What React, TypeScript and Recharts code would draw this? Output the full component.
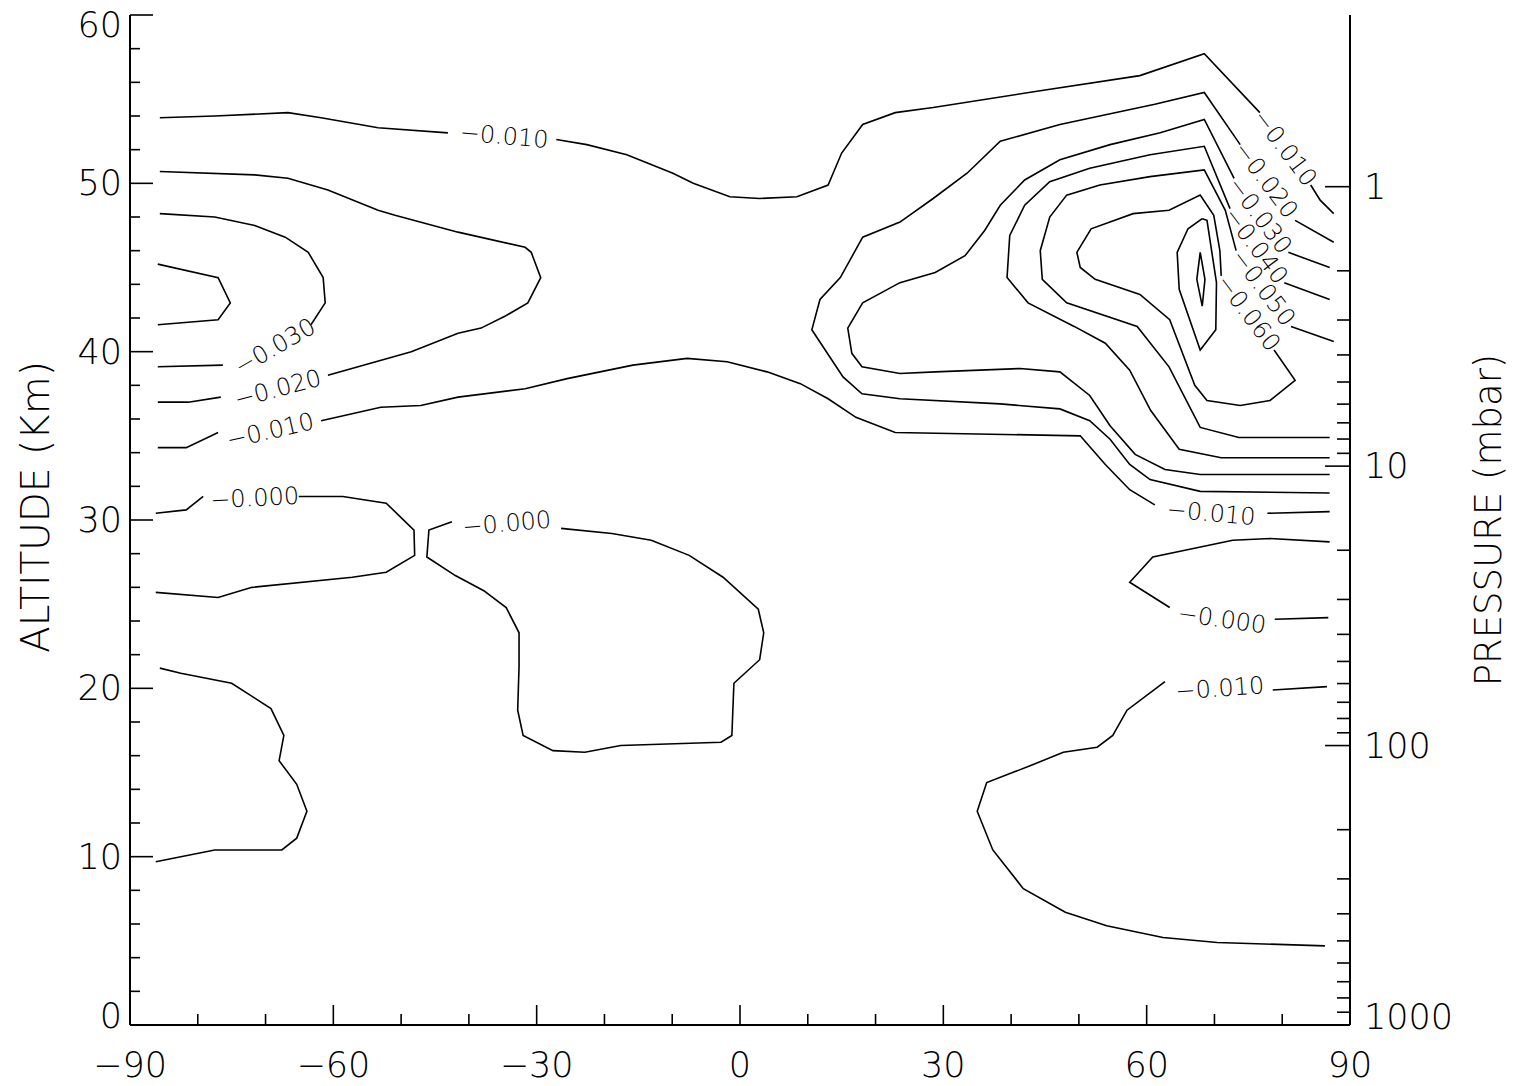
import React from 'react';
import { ComposedChart, Line, XAxis, YAxis, Scatter } from 'recharts';

// ---------- axis tick values ----------
const xTicks = [-90, -80, -70, -60, -50, -40, -30, -20, -10, 0, 10, 20, 30, 40, 50, 60, 70, 80, 90];
const altTicks = [0, 2, 4, 6, 8, 10, 12, 14, 16, 18, 20, 22, 24, 26, 28, 30, 32, 34, 36, 38, 40, 42, 44, 46, 48, 50, 52, 54, 56, 58, 60];
const pTicks = [1, 2, 3, 4, 5, 6, 7, 8, 9, 10, 20, 30, 40, 50, 60, 70, 80, 90, 100, 200, 300, 400, 500, 600, 700, 800, 900, 1000];
const pMajor = [1, 10, 100, 1000];
const P_TOP = 0.243; // pressure (mbar) at 60 km

// ---------- contour lines [latitude, altitude km] ----------
const neg010TopWest = [[-85.6, 53.9], [-77.5, 54.0], [-66.7, 54.2], [-61.8, 53.9], [-53.4, 53.3], [-43.1, 53.0]];
const neg010TopMid = [[-27.1, 52.6], [-22.6, 52.3], [-16.7, 51.7], [-9.9, 50.6], [-6.9, 50.0], [-1.5, 49.2], [2.9, 49.1], [8.4, 49.2], [13.0, 49.9], [15.0, 51.8], [18.1, 53.5], [22.9, 54.2], [28.5, 54.5], [44.3, 55.5], [59.0, 56.4], [68.5, 57.7], [76.7, 54.2]];
const neg010TopEast = [[84.2, 49.9], [85.6, 49.0], [87.6, 48.2]];

const neg020WestA = [[-85.6, 50.7], [-71.6, 50.5], [-66.7, 50.3], [-60.8, 49.6], [-53.4, 48.4], [-50.9, 48.1], [-41.6, 47.1], [-31.7, 46.2], [-30.8, 45.9], [-29.4, 44.4], [-31.3, 42.9], [-34.7, 42.1], [-38.2, 41.4], [-41.6, 41.1], [-48.5, 40.0], [-60.8, 38.6]];
const neg020WestB = [[-76.6, 37.3], [-81.4, 37.0], [-85.9, 37.0]];

const neg030WestA = [[-85.6, 48.2], [-77.5, 48.0], [-71.6, 47.5], [-67.1, 46.8], [-63.7, 45.9], [-61.5, 44.4], [-61.2, 42.9], [-63.3, 41.6]];
const neg030WestB = [[-76.3, 39.2], [-85.9, 39.1]];

const neg040West = [[-85.9, 45.2], [-77.0, 44.4], [-75.2, 42.9], [-77.0, 41.9], [-85.9, 41.6]];

const neg010LowWest = [[-85.9, 34.3], [-81.7, 34.3], [-77.0, 35.2]];
const neg010LowMid = [[-61.8, 35.9], [-53.0, 36.7], [-47.1, 36.8], [-41.6, 37.3], [-31.7, 37.8], [-25.5, 38.4], [-15.8, 39.2], [-7.8, 39.6], [-1.9, 39.4], [4.0, 38.8], [8.9, 38.1], [13.0, 37.2], [17.1, 36.1], [22.9, 35.2], [50.2, 35.0], [53.9, 33.3], [57.5, 31.8], [61.2, 30.9]];
const neg010LowEast = [[77.8, 30.4], [87.0, 30.5]];

const zeroWestA = [[-86.2, 30.4], [-81.7, 30.6], [-79.2, 31.4]];
const zeroWestB = [[-65.1, 31.4], [-58.6, 31.4], [-52.2, 31.0], [-48.1, 29.4], [-48.0, 27.9], [-52.2, 26.9], [-57.2, 26.6], [-72.0, 26.0], [-77.0, 25.4], [-86.2, 25.7]];

const zeroMid = [[-26.4, 29.5], [-18.9, 29.2], [-13.1, 28.8], [-7.5, 27.9], [-2.5, 26.6], [2.7, 24.7], [3.5, 23.3], [2.9, 21.7], [-0.9, 20.3], [-1.2, 17.2], [-2.8, 16.8], [-17.6, 16.6], [-22.9, 16.2], [-27.6, 16.3], [-32.0, 17.2], [-32.8, 18.7], [-32.6, 21.3], [-32.6, 23.3], [-34.5, 24.8], [-37.8, 25.8], [-42.0, 26.7], [-46.2, 27.8], [-45.9, 29.4], [-42.5, 29.9]];

const zeroSouthWest = [[-85.6, 21.2], [-82.5, 20.9], [-75.0, 20.3], [-69.2, 18.8], [-67.3, 17.2], [-68.0, 15.7], [-65.4, 14.3], [-63.9, 12.7], [-65.4, 11.1], [-67.6, 10.4], [-77.5, 10.4], [-86.2, 9.7]];

const zeroEastA = [[87.0, 28.7], [78.2, 28.9], [72.7, 28.8], [60.9, 27.8], [57.5, 26.3], [63.4, 24.8]];
const zeroEastB = [[78.9, 24.1], [86.8, 24.2]];

const neg010SouthEastA = [[86.6, 20.1], [78.6, 19.9]];
const neg010SouthEastB = [[62.7, 20.4], [57.1, 18.7], [55.0, 17.2], [52.7, 16.5], [47.7, 16.2], [42.8, 15.4], [36.4, 14.4], [35.0, 12.7], [37.3, 10.4], [41.8, 8.1], [48.0, 6.7], [54.1, 5.9], [62.4, 5.2], [70.4, 4.9], [86.3, 4.7]];

const neg020EastA = [[87.6, 46.5], [81.9, 47.8]];
const neg020EastB = [[73.8, 52.3], [68.5, 55.4], [61.2, 54.7], [47.2, 53.5], [38.4, 52.5], [33.5, 50.6], [28.5, 49.1], [23.6, 47.7], [18.1, 46.8], [14.8, 44.4], [11.8, 43.1], [10.6, 41.3], [15.2, 38.5], [18.0, 37.5], [23.6, 37.2], [38.4, 36.9], [47.2, 36.6], [51.6, 35.9], [54.6, 34.8], [57.5, 33.3], [60.5, 32.4], [67.9, 31.7], [87.0, 31.6]];

const neg030EastA = [[87.0, 45.0], [80.9, 45.9]];
const neg030EastB = [[72.9, 50.3], [68.5, 53.8], [62.0, 53.0], [54.6, 52.3], [47.2, 51.4], [42.0, 50.2], [38.4, 48.7], [36.1, 47.2], [33.2, 45.7], [28.8, 44.7], [23.6, 44.1], [18.1, 42.9], [15.9, 41.4], [16.5, 39.9], [18.0, 39.1], [23.6, 38.7], [28.8, 38.8], [41.3, 39.0], [47.2, 38.8], [51.6, 37.4], [54.6, 35.6], [58.3, 33.9], [62.7, 33.0], [67.9, 32.7], [87.0, 32.7]];

const neg040EastA = [[87.0, 43.1], [80.3, 44.1]];
const neg040EastB = [[72.3, 48.5], [68.5, 52.2], [60.5, 51.7], [51.6, 50.9], [45.7, 50.1], [42.0, 48.7], [39.8, 46.9], [39.4, 44.4], [42.5, 42.9], [49.3, 41.5], [53.9, 40.5], [57.5, 38.9], [60.6, 36.5], [64.8, 34.2], [71.0, 33.7], [87.0, 33.7]];

const neg050EastA = [[87.6, 40.6], [81.3, 41.5]];
const neg050EastB = [[73.2, 46.0], [71.6, 48.4], [68.5, 50.8], [60.5, 50.4], [53.1, 49.9], [48.2, 49.3], [45.7, 48.0], [44.3, 46.0], [44.6, 44.3], [48.2, 42.9], [58.6, 41.5], [63.3, 39.1], [67.9, 35.5], [73.6, 34.9], [87.0, 34.9]];

const neg060East = [[78.8, 40.1], [81.9, 38.3], [78.2, 37.1], [73.8, 36.8], [68.9, 37.1], [67.1, 38.0], [63.4, 41.9], [59.0, 43.4], [52.4, 44.3], [50.2, 45.0], [49.7, 45.9], [51.8, 47.3], [58.0, 48.2], [63.3, 48.4], [67.9, 49.3], [69.9, 48.1], [70.8, 46.0], [71.0, 44.5]];

const neg070East = [[68.2, 47.9], [66.1, 47.3], [64.5, 45.9], [64.8, 43.7], [67.9, 40.1], [70.2, 41.3], [70.3, 44.1], [68.9, 47.8], [68.2, 47.9]];
const neg080East = [[67.9, 45.9], [67.4, 44.3], [68.2, 42.7], [68.6, 44.3], [67.9, 45.9]];

const contourSegments = [
  neg010TopWest, neg010TopMid, neg010TopEast,
  neg020WestA, neg020WestB, neg030WestA, neg030WestB, neg040West,
  neg010LowWest, neg010LowMid, neg010LowEast,
  zeroWestA, zeroWestB, zeroMid, zeroSouthWest, zeroEastA, zeroEastB,
  neg010SouthEastA, neg010SouthEastB,
  neg020EastA, neg020EastB, neg030EastA, neg030EastB, neg040EastA, neg040EastB,
  neg050EastA, neg050EastB, neg060East, neg070East, neg080East,
];

// ---------- contour labels ----------
const labelText = ['−0.010', '−0.030', '−0.020', '−0.010', '−0.000', '−0.000', '−0.000', '−0.010', '−0.010', '−0.010', '−0.020', '−0.030', '−0.040', '−0.050', '−0.060'];
const labelLat = [-34.8, -68.6, -68.2, -69.3, -71.6, -34.4, 71.1, 70.8, 69.5, 80.4, 77.6, 76.7, 76.1, 77.2, 75.0];
const labelAlt = [52.8, 40.3, 37.8, 35.3, 31.3, 29.8, 24.1, 20.0, 30.4, 52.1, 50.2, 48.1, 46.3, 43.8, 42.3];
const labelAngle = [5, -30, -15, -13, -3, -5, 8, -4, 5, 53, 53, 53, 53, 53, 53];

const toPts = (a: number[][]) => a.map(([lat, alt]) => ({ lat, alt }));
const labelRows = labelText.map((t, i) => ({ lat: labelLat[i], alt: labelAlt[i], text: t, angle: labelAngle[i] }));

const FONT = '"DejaVu Sans", sans-serif';
const W = 1513;
const H = 1086;
const TICK_FS = 35;

const fmt = (v: number) => (v < 0 ? `−${-v}` : `${v}`);

const BottomTick = (props: any) => {
  const { x, y, payload } = props;
  const v = payload.value;
  const major = v % 30 === 0;
  return (
    <g>
      <line x1={x} y1={y} x2={x} y2={y - (major ? 20 : 11)} stroke="#000" strokeWidth={1.6} />
      {major && (
        <text x={x} y={y + 52} textAnchor="middle" fontSize={TICK_FS} fontWeight={200} fontFamily={FONT} fill="#000">
          {fmt(v)}
        </text>
      )}
    </g>
  );
};

const TopTick = (props: any) => {
  const { x, y, payload } = props;
  const major = payload.value % 30 === 0;
  return <line x1={x} y1={y} x2={x} y2={y + (major ? 16 : 11)} stroke="#000" strokeWidth={1.6} />;
};

const LeftTick = (props: any) => {
  const { x, y, payload } = props;
  const v = payload.value;
  const major = v % 10 === 0;
  const dy = v === 60 ? 10 : v === 0 ? -9 : 0;
  return (
    <g>
      <line x1={x} y1={y} x2={x + (major ? 23 : 10)} y2={y} stroke="#000" strokeWidth={1.6} />
      {major && (
        <text x={x - 8} y={y + dy} textAnchor="end" dominantBaseline="central" fontSize={TICK_FS} fontWeight={200} fontFamily={FONT} fill="#000">
          {v}
        </text>
      )}
    </g>
  );
};

const RightTick = (props: any) => {
  const { x, y, payload } = props;
  const v = payload.value;
  const major = pMajor.includes(v);
  const dy = v === 1000 ? -8 : 0;
  return (
    <g>
      <line x1={x} y1={y} x2={x - (major ? 25 : 13)} y2={y} stroke="#000" strokeWidth={1.6} />
      {major && (
        <text x={x + 14} y={y + dy} textAnchor="start" dominantBaseline="central" fontSize={TICK_FS} fontWeight={200} fontFamily={FONT} fill="#000">
          {v}
        </text>
      )}
    </g>
  );
};

const LabelShape = (props: any) => {
  const { cx, cy, payload } = props;
  if (cx == null || cy == null) return null;
  return (
    <text
      x={cx}
      y={cy}
      transform={`rotate(${payload.angle} ${cx} ${cy})`}
      textAnchor="middle"
      dominantBaseline="central"
      fontSize={24}
      fontWeight={200}
      fontFamily={FONT}
      fill="#000"
    >
      {payload.text}
    </text>
  );
};

const AltTitle = (props: any) => {
  const vb = props.viewBox || { x: 0, y: 15, width: 130, height: 1010 };
  const cx = vb.x + 35;
  const cy = 507;
  return (
    <text x={cx} y={cy} transform={`rotate(-90 ${cx} ${cy})`} textAnchor="middle" dominantBaseline="central" fontSize={39} fontWeight={200} fontFamily={FONT} fill="#000">
      ALTITUDE (Km)
    </text>
  );
};

const PresTitle = (props: any) => {
  const vb = props.viewBox || { x: 1350, y: 15, width: 163, height: 1010 };
  const cx = vb.x + 138;
  const cy = 520;
  return (
    <text x={cx} y={cy} transform={`rotate(-90 ${cx} ${cy})`} textAnchor="middle" dominantBaseline="central" fontSize={37} fontWeight={200} fontFamily={FONT} fill="#000">
      PRESSURE (mbar)
    </text>
  );
};

export default function App() {
  return (
    <div style={{ position: 'absolute', left: 0, top: 0, width: W, height: H, background: '#fff' }}>
      <ComposedChart width={W} height={H} margin={{ top: 15, right: 0, bottom: 0, left: 0 }}>
        <XAxis
          xAxisId="b"
          dataKey="lat"
          type="number"
          domain={[-90, 90]}
          ticks={xTicks}
          interval={0}
          orientation="bottom"
          height={61}
          allowDataOverflow
          tickSize={0}
          tickMargin={0}
          tickLine={false}
          axisLine={{ stroke: '#000', strokeWidth: 2 }}
          tick={<BottomTick />}
        />
        <XAxis
          xAxisId="t"
          dataKey="lat"
          type="number"
          domain={[-90, 90]}
          ticks={xTicks}
          interval={0}
          orientation="top"
          height={0}
          allowDataOverflow
          tickSize={0}
          tickMargin={0}
          tickLine={false}
          axisLine={{ stroke: '#000', strokeWidth: 2 }}
          tick={<TopTick />}
        />
        <YAxis
          yAxisId="a"
          dataKey="alt"
          type="number"
          domain={[0, 60]}
          ticks={altTicks}
          interval={0}
          orientation="left"
          width={130}
          allowDataOverflow
          tickSize={0}
          tickMargin={0}
          tickLine={false}
          axisLine={{ stroke: '#000', strokeWidth: 2 }}
          tick={<LeftTick />}
          label={{ content: (p: any) => <AltTitle {...p} /> }}
        />
        <YAxis
          yAxisId="p"
          type="number"
          scale="log"
          domain={[P_TOP, 1000]}
          reversed
          ticks={pTicks}
          interval={0}
          orientation="right"
          width={163}
          allowDataOverflow
          tickSize={0}
          tickMargin={0}
          tickLine={false}
          axisLine={{ stroke: '#000', strokeWidth: 2 }}
          tick={<RightTick />}
          label={{ content: (p: any) => <PresTitle {...p} /> }}
        />
        {contourSegments.map((seg, i) => (
          <Line
            key={`c${i}`}
            xAxisId="b"
            yAxisId="a"
            data={toPts(seg)}
            dataKey="alt"
            type="linear"
            stroke="#000"
            strokeWidth={1.6}
            dot={false}
            activeDot={false}
            isAnimationActive={false}
            legendType="none"
          />
        ))}
        <Scatter xAxisId="b" yAxisId="a" data={labelRows} dataKey="alt" shape={<LabelShape />} isAnimationActive={false} />
      </ComposedChart>
    </div>
  );
}
